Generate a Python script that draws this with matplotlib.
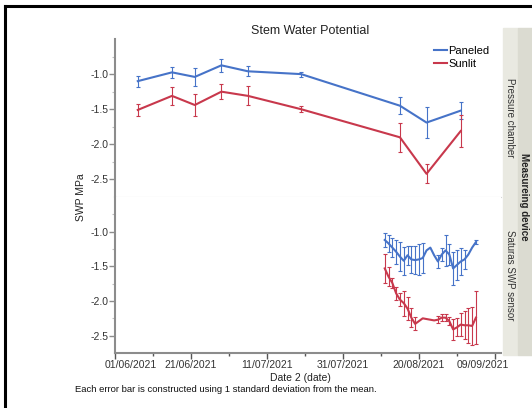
import matplotlib
matplotlib.use('Agg')
import matplotlib.pyplot as plt
import matplotlib.dates as mdates
import matplotlib.transforms as mtransforms
from matplotlib.patches import Rectangle
from matplotlib.lines import Line2D
import numpy as np
import pandas as pd

plt.rcParams['font.family'] = ['Liberation Sans', 'DejaVu Sans']

# pressure chamber measurements (mean and sd)
chamber_dates = ['2021-06-07', '2021-06-16', '2021-06-22', '2021-06-29', '2021-07-06',
                 '2021-07-20', '2021-08-15', '2021-08-22', '2021-08-31']
chamber_paneled = [-1.10, -0.975, -1.04, -0.875, -0.96, -1.00, -1.45, -1.69, -1.52]
chamber_paneled_sd = [0.08, 0.08, 0.13, 0.09, 0.07, 0.035, 0.12, 0.22, 0.12]
chamber_sunlit = [-1.51, -1.31, -1.44, -1.25, -1.31, -1.50, -1.90, -2.42, -1.81]
chamber_sunlit_sd = [0.09, 0.13, 0.155, 0.11, 0.135, 0.04, 0.21, 0.135, 0.23]

# saturas sensor, daily means
sensor_dates = ['2021-08-11', '2021-08-12', '2021-08-13', '2021-08-14', '2021-08-15',
                '2021-08-16', '2021-08-17', '2021-08-18', '2021-08-19', '2021-08-20',
                '2021-08-21', '2021-08-22', '2021-08-23', '2021-08-24', '2021-08-25',
                '2021-08-26', '2021-08-27', '2021-08-28', '2021-08-29', '2021-08-30',
                '2021-08-31', '2021-09-01', '2021-09-02', '2021-09-03', '2021-09-04']
sensor_paneled = [-1.12, -1.17, -1.23, -1.29, -1.36, -1.42, -1.34, -1.40, -1.41, -1.40,
                  -1.38, -1.27, -1.23, -1.34, -1.43, -1.33, -1.27, -1.33, -1.53, -1.48,
                  -1.43, -1.40, -1.33, -1.23, -1.15]
sensor_paneled_sd = [0.095, 0.12, 0.14, 0.17, 0.21, 0.20, 0.14, 0.19, 0.20, 0.22,
                     0.21, np.nan, np.nan, np.nan, 0.10, 0.095, 0.22, 0.15, 0.24, 0.21,
                     0.19, 0.14, np.nan, np.nan, 0.035]
sensor_sunlit = [-1.53, -1.65, -1.74, -1.89, -1.98, -2.03, -2.11, -2.24, -2.33, -2.29,
                 -2.25, -2.26, -2.27, -2.28, -2.27, -2.24, -2.24, -2.29, -2.41, -2.38,
                 -2.34, -2.35, -2.35, -2.36, -2.24]
sensor_sunlit_sd = [0.21, 0.14, 0.07, 0.095, 0.095, 0.18, 0.17, 0.14, 0.095, np.nan,
                    np.nan, np.nan, np.nan, np.nan, 0.05, 0.05, 0.05, 0.06, 0.15, 0.13,
                    0.17, 0.20, 0.25, 0.27, 0.38]

major_ticks = ['2021-06-01', '2021-06-21', '2021-07-11', '2021-07-31', '2021-08-20', '2021-09-09']
minor_ticks = ['2021-06-11', '2021-07-01', '2021-07-21', '2021-08-10', '2021-08-30']

blue = '#4673c8'
red = '#c8384c'
axis_gray = '#8c8c8c'

W, H = 532, 408
fig = plt.figure(figsize=(W / 100, H / 100), dpi=100)


def box(x0, y0, x1, y1):
    return [x0 / W, 1 - y1 / H, (x1 - x0) / W, (y1 - y0) / H]


ax_top = fig.add_axes(box(115, 39, 501, 197))
ax_bot = fig.add_axes(box(115, 197, 501, 353), sharex=ax_top)


def draw(ax, dates, pan, pan_sd, sun, sun_sd):
    x = pd.to_datetime(dates)
    ax.errorbar(x, pan, yerr=pan_sd, color=blue, lw=1.5, ecolor=blue, elinewidth=0.8,
                capsize=1.5, capthick=0.8, label='Paneled')
    ax.errorbar(x, sun, yerr=sun_sd, color=red, lw=1.5, ecolor=red, elinewidth=0.8,
                capsize=1.5, capthick=0.8, label='Sunlit')


draw(ax_top, chamber_dates, chamber_paneled, chamber_paneled_sd, chamber_sunlit, chamber_sunlit_sd)
draw(ax_bot, sensor_dates, sensor_paneled, sensor_paneled_sd, sensor_sunlit, sensor_sunlit_sd)

for ax in (ax_top, ax_bot):
    ax.set_ylim(-2.75, -0.5)
    ax.set_yticks([-1.0, -1.5, -2.0, -2.5])
    ax.set_yticks([-0.75, -1.25, -1.75, -2.25], minor=True)
    ax.yaxis.set_major_formatter(matplotlib.ticker.FormatStrFormatter('%.1f'))
    ax.spines['top'].set_visible(False)
    ax.spines['right'].set_visible(False)
    ax.spines['left'].set_color(axis_gray)
    ax.spines['left'].set_linewidth(1.5)
    ax.tick_params(axis='y', which='major', direction='out', length=4, width=1,
                   color=axis_gray, labelsize=7.5, labelcolor='#333333', pad=1)
    ax.tick_params(axis='y', which='minor', direction='out', length=2, width=0.8,
                   color='#c0c0c0')

ax_top.spines['bottom'].set_color('#d6d6d6')
ax_top.spines['bottom'].set_linewidth(0.8)
ax_top.tick_params(axis='x', which='both', bottom=False, labelbottom=False)

ax_bot.spines['bottom'].set_color(axis_gray)
ax_bot.spines['bottom'].set_linewidth(1.5)
ax_bot.set_xticks(pd.to_datetime(major_ticks))
ax_bot.set_xticks(pd.to_datetime(minor_ticks), minor=True)
ax_bot.xaxis.set_major_formatter(mdates.DateFormatter('%d/%m/%Y'))
ax_bot.tick_params(axis='x', which='major', direction='out', length=4, width=1,
                   color='#555555', labelsize=7.5, labelcolor='#333333', pad=1)
ax_bot.tick_params(axis='x', which='minor', direction='out', length=2.5, width=1,
                   color='#555555')
start = mdates.date2num(pd.Timestamp('2021-06-01'))
ax_bot.set_xlim(start, start + 101.6)

# nudge the end labels like the original
labels = ax_bot.get_xticklabels()
labels[0].set_transform(labels[0].get_transform() +
                        mtransforms.ScaledTranslation(16 / 100, 0, fig.dpi_scale_trans))
labels[-1].set_transform(labels[-1].get_transform() +
                         mtransforms.ScaledTranslation(-12 / 100, 0, fig.dpi_scale_trans))

handles = [Line2D([], [], color=blue, lw=1.5), Line2D([], [], color=red, lw=1.5)]
fig.legend(handles, ['Paneled', 'Sunlit'], loc='upper left',
           bbox_to_anchor=(428 / W, 1 - 40 / H), frameon=False, fontsize=8,
           handlelength=1.2, handletextpad=0.15, labelspacing=0.3, borderpad=0)

fig.text(310 / W, 1 - 31 / H, 'Stem Water Potential', ha='center', va='center',
         fontsize=9, color='#222222')
fig.text(81 / W, 1 - 197 / H, 'SWP MPa', ha='center', va='center', rotation=90,
         fontsize=7.5, color='#222222')
fig.text(300 / W, 1 - 378 / H, 'Date 2 (date)', ha='center', va='center',
         fontsize=7.5, color='#222222')
fig.text(75 / W, 1 - 390 / H,
         'Each error bar is constructed using 1 standard deviation from the mean.',
         ha='left', va='center', fontsize=6.8, color='#111111')

# facet strips on the right
fig.patches.append(Rectangle((503 / W, 1 - 355 / H), 15 / W, 327 / H,
                             transform=fig.transFigure, color='#e9e9e1', zorder=0))
fig.patches.append(Rectangle((518 / W, 1 - 355 / H), 14 / W, 327 / H,
                             transform=fig.transFigure, color='#dbdbd1', zorder=0))
fig.text(510 / W, 1 - 118 / H, 'Pressure chamber', rotation=-90, ha='center', va='center',
         fontsize=7, color='#333333')
fig.text(510 / W, 1 - 275 / H, 'Saturas SWP sensor', rotation=-90, ha='center', va='center',
         fontsize=7, color='#333333')
fig.text(524 / W, 1 - 197 / H, 'Measureing device', rotation=-90, ha='center', va='center',
         fontsize=7, fontweight='bold', color='#222222')

# black frame at top and left edge
fig.add_artist(Line2D([5 / W, 1], [1 - 6 / H, 1 - 6 / H], transform=fig.transFigure,
                      color='black', lw=2.2))
fig.add_artist(Line2D([5 / W, 5 / W], [0, 1 - 6 / H], transform=fig.transFigure,
                      color='black', lw=2.2))

fig.savefig('out.png', dpi=100)
